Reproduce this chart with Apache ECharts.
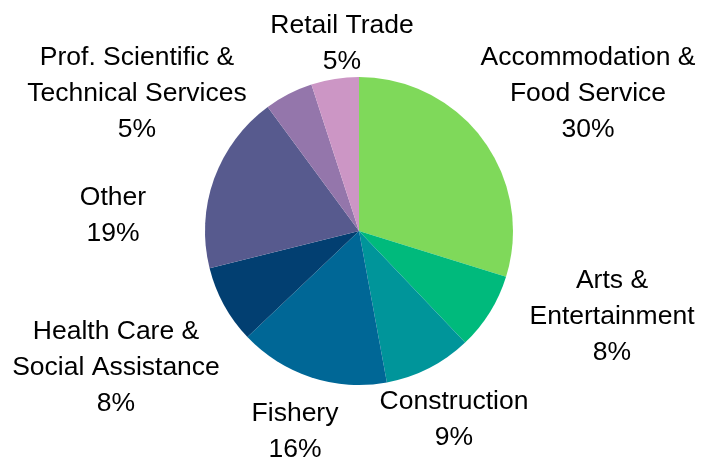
<!DOCTYPE html>
<html>
<head>
<meta charset="utf-8">
<script src="https://cdn.jsdelivr.net/npm/echarts@6/dist/echarts.min.js"></script>
<style>
html,body{margin:0;padding:0;background:#fff;}
#c{width:711px;height:457px;}
</style>
</head>
<body>
<div id="c"></div>
<script>
const categories = [
  'Accommodation &\nFood Service',
  'Arts &\nEntertainment',
  'Construction',
  'Fishery',
  'Health Care &\nSocial Assistance',
  'Other',
  'Prof. Scientific &\nTechnical Services',
  'Retail Trade'
];
const shares = [29.8, 8.1, 9.2, 15.8, 8.2, 18.8, 5.1, 5.0];
const colors = ['#7fd95a', '#00ba7c', '#00959a', '#006796', '#023f71', '#575a8e', '#9476ab', '#cc96c5'];

// label block centres, as offsets from the pie centre
const labelOffsets = [[229, -137], [253, 86], [95, 189], [-64, 201], [-243, 137], [-246, -15], [-222, -137], [-17, -187]];

const CX = 359, CY = 231, R = 154;

const chart = echarts.init(document.getElementById('c'), null, {renderer: 'canvas'});
chart.setOption({
  backgroundColor: '#ffffff',
  animation: false,
  series: [{
    type: 'pie',
    center: [CX, CY],
    radius: R,
    startAngle: 90,
    clockwise: true,
    percentPrecision: 0,
    avoidLabelOverlap: false,
    data: categories.map((n, i) => ({name: n, value: shares[i], itemStyle: {color: colors[i]}})),
    itemStyle: {borderWidth: 0},
    label: {
      show: true,
      position: 'outside',
      formatter: '{b}\n{d}%',
      fontFamily: 'Liberation Sans',
      fontSize: 26.5,
      lineHeight: 36,
      color: '#000000',
      align: 'center'
    },
    labelLine: {show: false},
    labelLayout: function (p) {
      const o = labelOffsets[p.dataIndex];
      return {x: CX + o[0], y: CY + o[1], align: 'center', verticalAlign: 'middle'};
    },
    emphasis: {disabled: true}
  }]
});
</script>
</body>
</html>
